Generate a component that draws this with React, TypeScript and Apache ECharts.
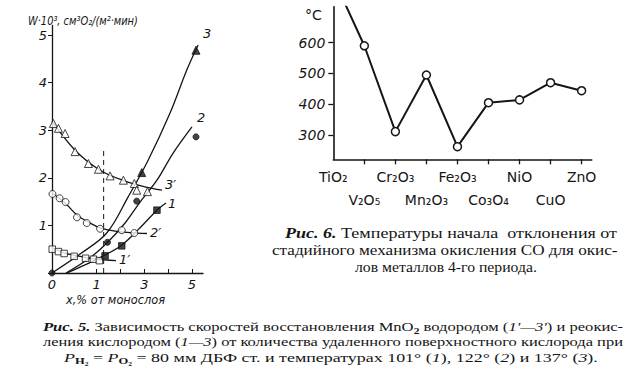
import React, { useEffect, useRef } from "react";
import * as echarts from "echarts";

// ---------- Рис. 5 (left chart) : x = % от монослоя, W·10^3 ----------
// fitted curves (line only)
const curve3 = [[-0.88, 0], [0.3, 0.4], [1.42, 0.84], [2.32, 1.6], [3.16, 2.37], [4.08, 3.36], [4.78, 4.26], [5.26, 4.79]];
const curve2 = [[-0.29, 0], [0.72, 0.32], [1.47, 0.65], [2.19, 1.05], [2.82, 1.49], [3.53, 1.95], [4.21, 2.52], [5.0, 3.07]];
const curve1 = [[-0.25, 0], [0.51, 0.17], [1.28, 0.36], [2.06, 0.59], [2.82, 0.95], [3.53, 1.32], [3.91, 1.47]];
const curve3p = [[-0.88, 3.19], [0.09, 2.58], [1.14, 2.16], [2.19, 1.93], [3.03, 1.81], [3.74, 1.74]];
const curve2p = [[-0.88, 1.68], [-0.33, 1.47], [0.17, 1.22], [0.72, 1.05], [1.14, 0.95], [1.77, 0.88], [2.4, 0.85], [3.11, 0.83]];
const curve1p = [[-0.88, 0.525], [-0.33, 0.42], [0.3, 0.35], [0.93, 0.29], [1.81, 0.26]];
// measured points
const pts3p = [[-0.82, 3.14], [-0.61, 3.04], [-0.33, 2.93], [0.09, 2.55], [0.65, 2.3], [1.07, 2.18], [1.56, 2.04], [2.12, 1.95], [2.58, 1.88], [2.68, 1.74], [3.13, 1.71]];
const pts2p = [[-0.86, 1.66], [-0.56, 1.57], [-0.31, 1.49], [0.17, 1.17], [0.58, 1.05], [1.14, 0.93], [2.05, 0.9], [2.58, 0.84]];
const pts1p = [[-0.87, 0.5], [-0.61, 0.45], [-0.37, 0.41], [0.05, 0.35], [0.53, 0.31], [0.86, 0.29], [1.11, 0.26]];
const pts3 = [[2.89, 2.11], [5.17, 4.68]];
const pts2 = [[-0.88, 0], [1.45, 0.645], [2.68, 1.51], [5.17, 2.86]];
const pts1 = [[1.35, 0.36], [2.05, 0.57], [3.53, 1.32]];
const dashedMark = [[1.29, 0], [1.29, 2.58]];
const leftXMin = -0.88;
const leftXMax = 5.465;
const leftYMax = 5.2;
const leftYTicks = [0, 1, 2, 3, 4, 5];
const leftYLabels = [1, 2, 3, 4, 5];
const leftXTicks = [1, 2, 3, 4, 5];
const leftXLabels = [leftXMin, 1, 3, 5];

// ---------- Рис. 6 (right chart) ----------
const oxides = ["TiO₂", "V₂O₅", "Cr₂O₃", "Mn₂O₃", "Fe₂O₃", "Co₃O₄", "NiO", "CuO", "ZnO"];
const tempC = [810, 590, 311, 495, 262, 405, 414, 470, 444];
const rightYTicks = [300, 400, 500, 600];
const rightYMin = 221;
const rightYMax = 717;
const rightXMax = 8.325;

const INK = "#151515";

type Seg = [string, string];

const captionRight: Seg[][] = [
  [["Рис. 6.", "b"], [" Температуры начала  отклонения от", "r"]],
  [["стадийного механизма окисления CO для окис-", "r"]],
  [["лов металлов 4-го периода.", "r"]],
];
const captionLeft: Seg[][] = [
  [["Рис. 5.", "b"], [" Зависимость скоростей восстановления MnO", "r"], ["2", "s"], [" водородом (", "r"], ["1′—3′", "i"], [") и реокис-", "r"]],
  [["ления кислородом (", "r"], ["1—3", "i"], [") от количества удаленного поверхностного кислорода при", "r"]],
  [["P", "i"], ["H₂", "sb"], [" = ", "r"], ["P", "i"], ["O₂", "sb"], [" = 80 мм ДБФ ст. и температурах 101° (", "r"], ["1", "i"], ["), 122° (", "r"], ["2", "i"], [") и 137° (", "r"], ["3", "i"], [").", "r"]],
];

const SERIF = "'Liberation Serif', 'DejaVu Serif', serif";
const SANS = "'DejaVu Sans', 'Liberation Sans', sans-serif";

function richStyles(size: number, lh: number) {
  return {
    r: { fontSize: size, fontFamily: SERIF, fill: INK, lineHeight: lh },
    b: { fontSize: size, fontFamily: SERIF, fontWeight: "bold", fontStyle: "italic", fill: INK, lineHeight: lh },
    i: { fontSize: size, fontFamily: SERIF, fontStyle: "italic", fill: INK, lineHeight: lh },
    s: { fontSize: size * 0.7, fontFamily: SERIF, fontWeight: "bold", fill: INK, lineHeight: size * 0.7, verticalAlign: "bottom" },
    sb: { fontSize: size * 0.7, fontFamily: SERIF, fontWeight: "bold", fill: INK, lineHeight: size * 0.7, verticalAlign: "bottom" },
  } as any;
}

function segFont(key: string, size: number) {
  const s = key === "s" || key === "sb" ? size * 0.7 : size;
  const style = key === "b" || key === "i" ? "italic" : "normal";
  const weight = key === "b" || key === "s" || key === "sb" ? "bold" : "normal";
  return `${style} ${weight} ${s}px ${SERIF}`;
}

function captionLine(segs: Seg[], x: number, y: number, width: number, size: number, lh: number) {
  const ctx = document.createElement("canvas").getContext("2d")!;
  let w = 0;
  for (const [t, k] of segs) {
    ctx.font = segFont(k, size);
    w += ctx.measureText(t).width;
  }
  const text = segs.map(([t, k]) => `{${k}|${t}}`).join("");
  return {
    type: "text",
    x,
    y,
    scaleX: width / w,
    silent: true,
    style: {
      text,
      x: 0,
      y: 0,
      verticalAlign: "middle",
      align: "left",
      rich: richStyles(size, lh),
    },
  };
}

function fitText(text: string, x: number, y: number, width: number, font: any, align = "left") {
  const ctx = document.createElement("canvas").getContext("2d")!;
  ctx.font = `${font.fontStyle || "normal"} ${font.fontWeight || "normal"} ${font.fontSize}px ${font.fontFamily}`;
  const w = ctx.measureText(text).width;
  return {
    type: "text",
    x,
    y,
    scaleX: width / w,
    silent: true,
    style: { text, x: 0, y: 0, verticalAlign: "middle", align, fill: INK, ...font },
  };
}

export default function App() {
  const ref = useRef<HTMLDivElement>(null);
  useEffect(() => {
    if (!ref.current) return;
    const chart = echarts.init(ref.current, undefined, { renderer: "svg" });

    const lineBase = (data: number[][], label: string, offset: number[]) => ({
      type: "line",
      xAxisIndex: 0,
      yAxisIndex: 0,
      data,
      smooth: 0.35,
      symbol: "none",
      showSymbol: false,
      clip: false,
      lineStyle: { color: INK, width: 1.3 },
      endLabel: {
        show: true,
        formatter: label,
        offset,
        distance: 3,
        fontSize: 13,
        fontStyle: "italic",
        fontFamily: SANS,
        color: INK,
      },
      z: 2,
    });
    const scat = (data: number[][], symbol: string, size: number, filled: boolean) => ({
      type: "scatter",
      xAxisIndex: 0,
      yAxisIndex: 0,
      data,
      symbol,
      symbolSize: size,
      clip: false,
      itemStyle: { color: filled ? INK : "#fff", borderColor: INK, borderWidth: 1 },
      z: 3,
    });

    const axisLine = { show: true, onZero: false, lineStyle: { color: INK, width: 1.3 } };

    const option: any = {
      animation: false,
      backgroundColor: "#fff",
      grid: [
        { left: 52, top: 25.5, width: 151, height: 247.5 },
        { left: 333.3, top: 6.7, width: 258.4, height: 152.6 },
      ],
      xAxis: [
        {
          gridIndex: 0,
          type: "value",
          min: leftXMin,
          max: leftXMax,
          axisLine,
          axisTick: { show: true, inside: true, length: 4, customValues: leftXTicks, lineStyle: { color: INK } },
          axisLabel: {
            customValues: leftXLabels,
            formatter: (v: number) => (v < 0 ? "0" : String(v)),
            margin: 5,
            fontSize: 13,
            fontStyle: "italic",
            fontFamily: SANS,
            color: INK,
          },
          splitLine: { show: false },
        },
        {
          gridIndex: 1,
          type: "value",
          min: 0,
          max: rightXMax,
          axisLine: { show: true, onZero: false, lineStyle: { color: INK, width: 1.6 } },
          axisTick: { show: true, length: 5, customValues: [1, 2, 3, 4, 5, 6, 7, 8], lineStyle: { color: INK, width: 1.3 } },
          axisLabel: {
            customValues: oxides.map((_, i) => i),
            formatter: (v: number) => (Math.round(v) % 2 === 1 ? "\n" + oxides[Math.round(v)] : oxides[Math.round(v)]),
            margin: 6,
            lineHeight: 23,
            fontSize: 14,
            fontFamily: SANS,
            color: INK,
          },
          splitLine: { show: false },
        },
      ],
      yAxis: [
        {
          gridIndex: 0,
          type: "value",
          min: 0,
          max: leftYMax,
          axisLine,
          axisTick: { show: true, length: 4, customValues: leftYTicks, lineStyle: { color: INK } },
          axisLabel: {
            customValues: leftYLabels,
            margin: 5,
            fontSize: 13,
            fontStyle: "italic",
            fontFamily: SANS,
            color: INK,
          },
          splitLine: { show: false },
        },
        {
          gridIndex: 1,
          type: "value",
          min: rightYMin,
          max: rightYMax,
          axisLine: { show: true, onZero: false, lineStyle: { color: INK, width: 1.6 } },
          axisTick: { show: true, length: 5, customValues: rightYTicks, lineStyle: { color: INK, width: 1.3 } },
          axisLabel: {
            customValues: rightYTicks,
            margin: 8,
            fontSize: 14,
            fontStyle: "italic",
            fontFamily: SANS,
            color: INK,
          },
          splitLine: { show: false },
        },
      ],
      series: [
        lineBase(curve3, "3", [2, -12]),
        lineBase(curve2, "2", [2, -9]),
        lineBase(curve1, "1", [-1, 0]),
        lineBase(curve3p, "3′", [0, -6]),
        lineBase(curve2p, "2′", [0, -1]),
        lineBase(curve1p, "1′", [0, -1]),
        scat(pts3p, "triangle", 8, false),
        scat(pts2p, "circle", 7, false),
        scat(pts1p, "rect", 6.5, false),
        scat(pts3, "triangle", 8, true),
        scat(pts2, "circle", 6, true),
        scat(pts1, "rect", 6.5, true),
        {
          type: "line",
          xAxisIndex: 0,
          yAxisIndex: 0,
          data: dashedMark,
          symbol: "none",
          lineStyle: { color: INK, width: 1, type: [5, 4] },
          z: 1,
        },
        {
          type: "line",
          xAxisIndex: 1,
          yAxisIndex: 1,
          data: tempC.map((t, i) => ({ value: [i, t], symbol: i === 0 ? "none" : "circle" })),
          symbol: "circle",
          symbolSize: 8,
          clip: true,
          lineStyle: { color: INK, width: 2 },
          itemStyle: { color: "#fff", borderColor: INK, borderWidth: 1.5 },
        },
      ],
      graphic: [
        fitText("W·10³, см³O₂/(м²·мин)", 28, 21, 110, { fontSize: 12, fontStyle: "italic", fontFamily: SANS }),
        fitText("x,% от монослоя", 66, 300, 99, { fontSize: 12, fontStyle: "italic", fontFamily: SANS }),
        fitText("°C", 305, 15, 17, { fontSize: 14, fontFamily: SANS }),
        captionLine(captionRight[0], 285, 233, 332, 14, 17),
        captionLine(captionRight[1], 272, 250, 346, 14, 17),
        captionLine(captionRight[2], 355, 267, 182, 14, 17),
        captionLine(captionLeft[0], 43, 327, 580, 13, 16),
        captionLine(captionLeft[1], 43, 342, 580, 13, 16),
        captionLine(captionLeft[2], 64, 357, 534, 13, 16),
      ],
    };
    chart.setOption(option);
    return () => chart.dispose();
  }, []);
  return (
    <div
      ref={ref}
      style={{ position: "fixed", left: 0, top: 0, width: 630, height: 377, background: "#fff" }}
    />
  );
}
